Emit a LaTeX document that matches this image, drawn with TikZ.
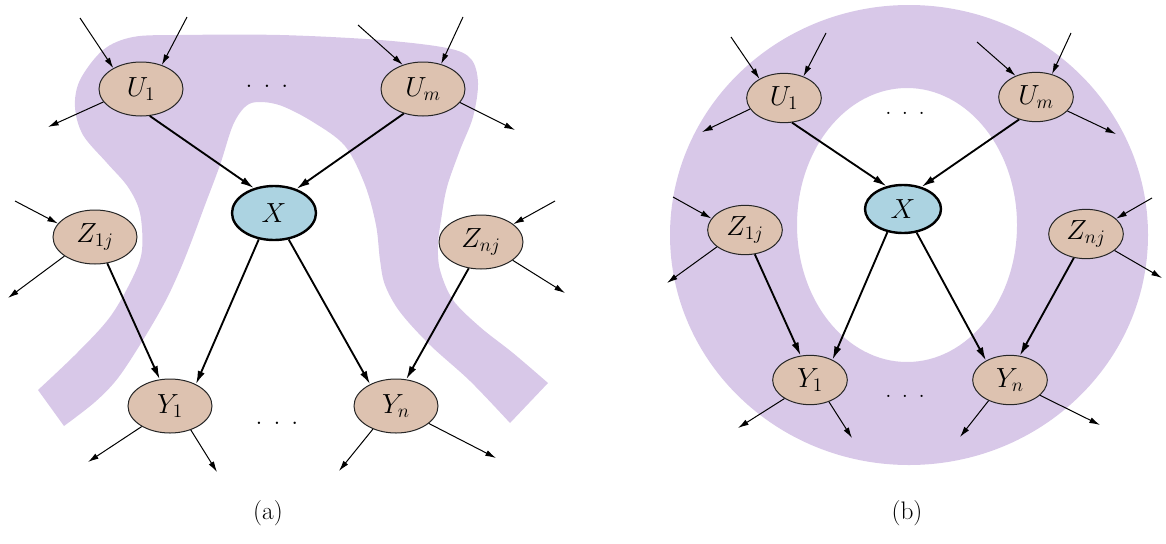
\documentclass[tikz,border=0pt]{standalone}
\usepackage{amsmath}
\usepackage{amssymb}
\usetikzlibrary{arrows.meta,shapes.geometric}
\definecolor{bandcol}{RGB}{216,200,232}
\definecolor{nodecol}{RGB}{221,194,176}
\definecolor{xcol}{RGB}{172,211,225}
\tikzset{
	varnode/.style={ellipse,draw=black!85,line width=0.75pt,fill=nodecol,inner sep=0pt,minimum width=63pt,minimum height=40.5pt,font=\fontsize{22}{26}\selectfont},
	varnodeb/.style={varnode,minimum width=56pt,minimum height=37pt,font=\fontsize{20}{24}\selectfont},
	query/.style={fill=xcol,draw=black,line width=1.8pt},
	link/.style={line width=1.4pt,-{Latex[length=10pt,width=5.5pt]}},
	ext/.style={line width=0.75pt,-{Latex[length=8pt,width=4.5pt]}},
}

\begin{document}
\begin{tikzpicture}[x=0.75pt,y=0.75pt,yscale=-1,xscale=1]
	\useasboundingbox (0,0) rectangle (1166,543);
	\fill[bandcol] (38,390) -- plot[smooth,tension=0.55] coordinates {(64,426) (95,402) (118,378) (143,340) (165,302) (180,270) (192,240) (205,205) (220,165) (233,125) (246,106) (260,102) (282,106) (313,122) (345,146) (365,185) (376,225) (380,260) (385,285) (400,312) (430,345) (470,381) (510,423)}
		-- plot[smooth,tension=0.55] coordinates {(548,383) (513,353) (480,327) (453,300) (440,270) (438,245) (441,220) (447,187) (460,150) (473,117) (478,83) (471,59) (447,48) (380,40) (280,35) (180,35) (133,37) (103,50) (80,80) (75,107) (83,135) (107,163) (128,187) (140,213) (142,250) (133,277) (110,317) (77,353) (38,390)} -- cycle;
	\fill[bandcol,even odd rule] (909,235) ellipse [x radius=239,y radius=230] (907,225) ellipse [x radius=110,y radius=137];

	\node[varnode] (U1a) at (141,89) {$U_1$};
	\node[varnode] (Uma) at (423,89) {$U_m$};
	\node[varnode,query] (Xa) at (274,213) {$X$};
	\node[varnode] (Z1a) at (95,237) {$Z_{1j}$};
	\node[varnode] (Zna) at (481,242) {$Z_{nj}$};
	\node[varnode] (Y1a) at (170,406) {$Y_1$};
	\node[varnode] (Yna) at (396,406) {$Y_n$};
	\node[font=\fontsize{22}{26}\selectfont] (dotsa1) at (267,86) {.\hspace{7.9pt}.\hspace{7.9pt}.};
	\node[font=\fontsize{22}{26}\selectfont] (dotsa2) at (277,423) {.\hspace{7.9pt}.\hspace{7.9pt}.};
	\node[font=\fontsize{19}{23}\selectfont] (capa) at (268,513) {(a)};

	\coordinate (u1a-in1) at (80,18);
	\coordinate (u1a-in2) at (187,17);
	\coordinate (u1a-out) at (48,127);
	\coordinate (uma-in1) at (358,25);
	\coordinate (uma-in2) at (463,17);
	\coordinate (uma-out) at (515,130);
	\coordinate (z1a-in) at (15,201);
	\coordinate (z1a-out) at (8,298);
	\coordinate (zna-in) at (555,201);
	\coordinate (zna-out) at (565,293);
	\coordinate (y1a-out1) at (88,462);
	\coordinate (y1a-out2) at (217,472);
	\coordinate (yna-out1) at (339,471);
	\coordinate (yna-out2) at (496,458);

	\draw[ext] (u1a-in1) -- (U1a.143);
	\draw[ext] (u1a-in2) -- (U1a.49);
	\draw[ext] (U1a.199) -- (u1a-out);
	\draw[link] (U1a.288) -- (Xa.129);
	\draw[ext] (uma-in1) -- (Uma.130);
	\draw[ext] (uma-in2) -- (Uma.54);
	\draw[ext] (Uma.340) -- (uma-out);
	\draw[link] (Uma.232) -- (Xa.47);
	\draw[link] (Xa.240) -- (Y1a.40);
	\draw[link] (Xa.299) -- (Yna.140);
	\draw[ext] (z1a-in) -- (Z1a.160);
	\draw[ext] (Z1a.212) -- (z1a-out);
	\draw[link] (Z1a.295) -- (Y1a.111);
	\draw[ext] (zna-in) -- (Zna.29);
	\draw[ext] (Zna.330) -- (zna-out);
	\draw[link] (Zna.245) -- (Yna.69);
	\draw[ext] (Y1a.216) -- (y1a-out1);
	\draw[ext] (Y1a.311) -- (y1a-out2);
	\draw[ext] (Yna.225) -- (yna-out1);
	\draw[ext] (Yna.332) -- (yna-out2);

	\node[varnodeb] (U1b) at (784,98) {$U_1$};
	\node[varnodeb] (Umb) at (1036,97) {$U_m$};
	\node[varnodeb,query,minimum width=57pt,minimum height=36pt] (Xb) at (903,209) {$X$};
	\node[varnodeb] (Z1b) at (745,230) {$Z_{1j}$};
	\node[varnodeb] (Znb) at (1086,234) {$Z_{nj}$};
	\node[varnodeb] (Y1b) at (810,380) {$Y_1$};
	\node[varnodeb] (Ynb) at (1010,380) {$Y_n$};
	\node[font=\fontsize{20}{24}\selectfont] (dotsb1) at (905,113) {.\hspace{7.5pt}.\hspace{7.5pt}.};
	\node[font=\fontsize{20}{24}\selectfont] (dotsb2) at (905,396) {.\hspace{7.5pt}.\hspace{7.5pt}.};
	\node[font=\fontsize{19}{23}\selectfont] (capb) at (907,513) {(b)};

	\coordinate (u1b-in1) at (731,37);
	\coordinate (u1b-in2) at (826,33);
	\coordinate (u1b-out) at (702,132);
	\coordinate (umb-in1) at (977,42);
	\coordinate (umb-in2) at (1071,33);
	\coordinate (umb-out) at (1116,134);
	\coordinate (z1b-in) at (673,197);
	\coordinate (z1b-out) at (667,283);
	\coordinate (znb-in) at (1152,198);
	\coordinate (znb-out) at (1162,278);
	\coordinate (y1b-out1) at (738,428);
	\coordinate (y1b-out2) at (852,438);
	\coordinate (ynb-out1) at (960,437);
	\coordinate (ynb-out2) at (1100,425);

	\draw[ext] (u1b-in1) -- (U1b.142);
	\draw[ext] (u1b-in2) -- (U1b.48);
	\draw[ext] (U1b.198) -- (u1b-out);
	\draw[link] (U1b.288) -- (Xb.126);
	\draw[ext] (umb-in1) -- (Umb.134);
	\draw[ext] (umb-in2) -- (Umb.55);
	\draw[ext] (Umb.336) -- (umb-out);
	\draw[link] (Umb.233) -- (Xb.50);
	\draw[link] (Xb.236) -- (Y1b.42);
	\draw[link] (Xb.300) -- (Ynb.141);
	\draw[ext] (z1b-in) -- (Z1b.161);
	\draw[ext] (Z1b.211) -- (z1b-out);
	\draw[link] (Z1b.292) -- (Y1b.111);
	\draw[ext] (znb-in) -- (Znb.27);
	\draw[ext] (Znb.330) -- (znb-out);
	\draw[link] (Znb.243) -- (Ynb.68);
	\draw[ext] (Y1b.216) -- (y1b-out1);
	\draw[ext] (Y1b.311) -- (y1b-out2);
	\draw[ext] (Ynb.224) -- (ynb-out1);
	\draw[ext] (Ynb.333) -- (ynb-out2);
\end{tikzpicture}
\end{document}
